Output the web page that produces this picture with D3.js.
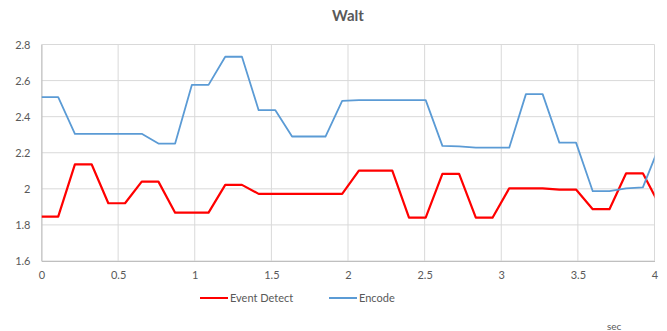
<!DOCTYPE html>
<html>
<head>
<meta charset="utf-8">
<script src="https://cdn.jsdelivr.net/npm/d3@7"></script>
<style>
  body { margin: 0; background: #fff; }
  svg { display: block; font-family: Lato, "Liberation Sans", sans-serif; }
</style>
</head>
<body>
<svg id="chart" width="667" height="331"></svg>
<script>
// sample times (sec)
const times = [0, 0.109, 0.218, 0.327, 0.436, 0.545, 0.654, 0.763, 0.872, 0.981,
  1.09, 1.199, 1.308, 1.417, 1.526, 1.635, 1.744, 1.853, 1.962, 2.071,
  2.18, 2.289, 2.398, 2.507, 2.616, 2.725, 2.834, 2.943, 3.052, 3.161,
  3.27, 3.379, 3.488, 3.597, 3.706, 3.815, 3.924, 4.033];

const eventDetect = [1.846, 1.846, 2.136, 2.136, 1.92, 1.92, 2.04, 2.04, 1.868, 1.868,
  1.868, 2.022, 2.022, 1.972, 1.972, 1.972, 1.972, 1.972, 1.972, 2.101,
  2.101, 2.101, 1.84, 1.84, 2.083, 2.083, 1.84, 1.84, 2.003, 2.003,
  2.003, 1.996, 1.996, 1.887, 1.887, 2.086, 2.086, 1.91];

const encode = [2.508, 2.508, 2.305, 2.305, 2.305, 2.305, 2.305, 2.251, 2.251, 2.576,
  2.576, 2.732, 2.732, 2.436, 2.436, 2.29, 2.29, 2.29, 2.487, 2.492,
  2.492, 2.492, 2.492, 2.492, 2.238, 2.235, 2.228, 2.228, 2.228, 2.525,
  2.525, 2.256, 2.256, 1.987, 1.987, 2.003, 2.008, 2.24];

const xTicks = [0, 0.5, 1, 1.5, 2, 2.5, 3, 3.5, 4];
const yTicks = [1.6, 1.8, 2, 2.2, 2.4, 2.6, 2.8];

const series = [
  { name: "Event Detect", values: eventDetect, color: "#ff0000", width: 2.2 },
  { name: "Encode", values: encode, color: "#5b9bd5", width: 1.8 },
];

const margin = { top: 44.5, left: 41.5, right: 12.5, bottom: 70 };
const svg = d3.select("#chart");
const W = +svg.attr("width"), H = +svg.attr("height");
const width = W - margin.left - margin.right;
const height = 261 - margin.top;

const xScale = d3.scaleLinear().domain([0, 4]).range([0, width]);
const yScale = d3.scaleLinear().domain([1.6, 2.8]).range([height, 0]);

const g = svg.append("g").attr("transform", `translate(${margin.left},${margin.top})`);

// title
svg.append("text")
  .attr("x", 348).attr("y", 21)
  .attr("text-anchor", "middle")
  .attr("font-size", 15).attr("font-weight", "bold")
  .attr("fill", "#595959")
  .text("Walt");

// grid
g.append("g").selectAll("line")
  .data(yTicks)
  .join("line")
  .attr("x1", 0).attr("x2", width)
  .attr("y1", (d) => yScale(d)).attr("y2", (d) => yScale(d))
  .attr("stroke", "#d9d9d9").attr("stroke-width", 1);

g.append("g").selectAll("line")
  .data(xTicks)
  .join("line")
  .attr("x1", (d) => xScale(d)).attr("x2", (d) => xScale(d))
  .attr("y1", 0).attr("y2", height)
  .attr("stroke", "#d9d9d9").attr("stroke-width", 1);

// axes
const xAxis = g.append("g")
  .attr("transform", `translate(0,${height})`)
  .call(d3.axisBottom(xScale).tickValues(xTicks).tickSize(0).tickPadding(10).tickFormat(d3.format("")));
const yAxis = g.append("g")
  .call(d3.axisLeft(yScale).tickValues(yTicks).tickSize(0).tickPadding(11).tickFormat(d3.format("")));

[xAxis, yAxis].forEach((ax) => {
  ax.select(".domain").attr("stroke", "#bfbfbf");
  ax.selectAll("text").attr("fill", "#595959").attr("font-size", 11)
    .attr("font-family", "Lato, 'Liberation Sans', sans-serif");
});

// lines
svg.append("defs").append("clipPath").attr("id", "clip")
  .append("rect").attr("x", 0).attr("y", -5).attr("width", width).attr("height", height + 10);

const line = d3.line()
  .x((d, i) => xScale(times[i]))
  .y((d) => yScale(d));

g.append("g").attr("clip-path", "url(#clip)")
  .selectAll("path")
  .data(series)
  .join("path")
  .attr("fill", "none")
  .attr("stroke", (d) => d.color)
  .attr("stroke-width", (d) => d.width)
  .attr("stroke-linejoin", "round")
  .attr("d", (d) => line(d.values));

// legend
const legendX = [200, 329];
const legend = svg.append("g").selectAll("g")
  .data(series)
  .join("g")
  .attr("transform", (d, i) => `translate(${legendX[i]},298)`);
legend.append("line")
  .attr("x1", 0).attr("x2", 28)
  .attr("stroke", (d) => d.color).attr("stroke-width", 2);
legend.append("text")
  .attr("x", 30).attr("y", 4)
  .attr("font-size", 11).attr("fill", "#595959")
  .text((d) => d.name);

// x axis unit
svg.append("text")
  .attr("x", 607).attr("y", 330)
  .attr("font-size", 10).attr("fill", "#595959")
  .text("sec");
</script>
</body>
</html>
